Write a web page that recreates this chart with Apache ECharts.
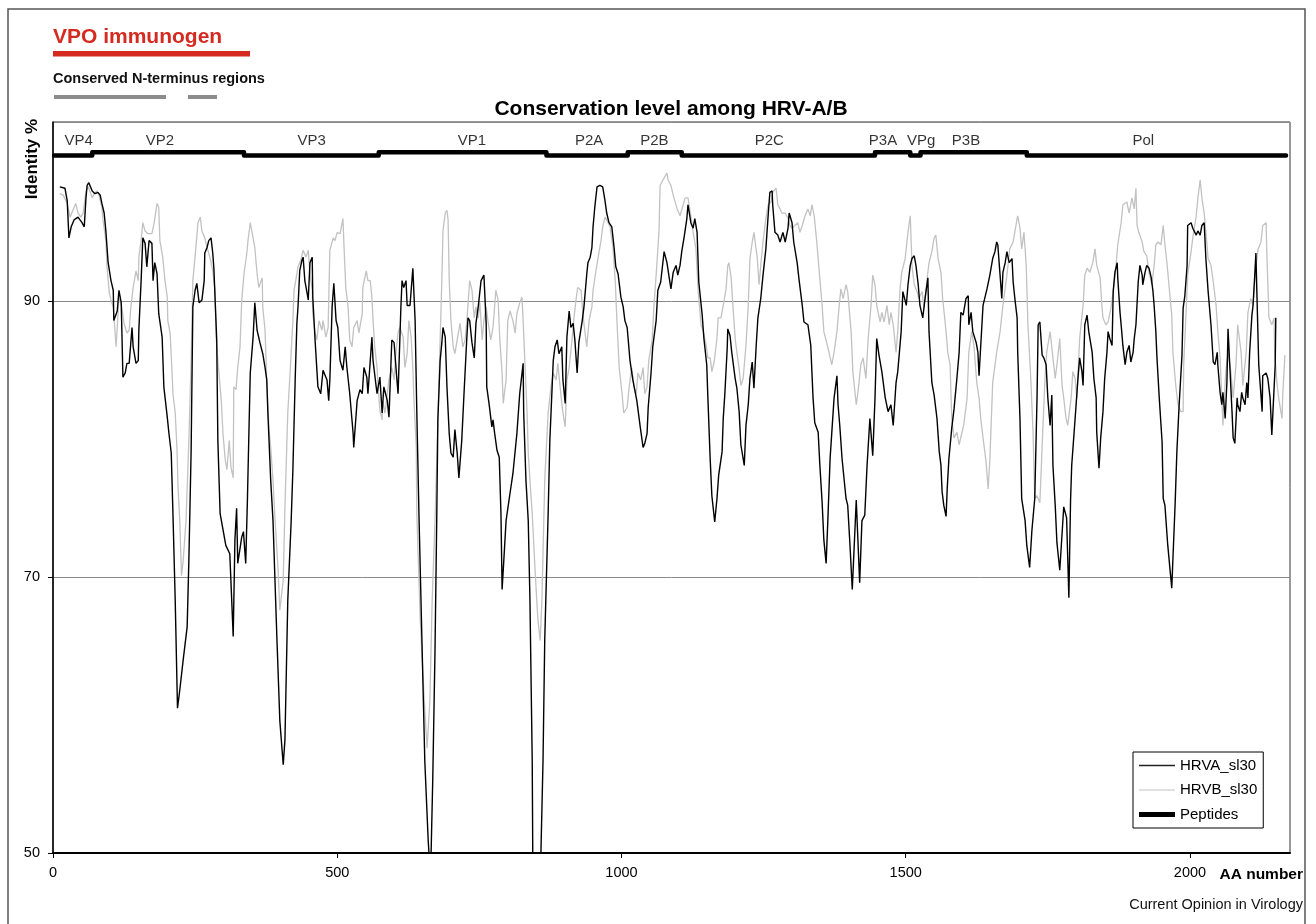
<!DOCTYPE html>
<html>
<head>
<meta charset="utf-8">
<script src="https://cdn.jsdelivr.net/npm/echarts@6/dist/echarts.min.js"></script>
<style>html,body{margin:0;padding:0;background:#fff}#c{width:1316px;height:924px}</style>
</head>
<body>
<div id="c"></div>
<script>
// ---- data (AA position, identity %) ----
const hrvaData = [
[12,98.3],[21,98.2],[25,97.3],[28,94.6],[32,95.4],[37,95.9],[44,96.1],[51,95.7],[55,95.4],[58,97.5],[60,98.4],[63,98.6],[69,98.0],[74,97.8],[79,97.9],[83,97.7],[86,97.1],[90,96.4],[93,95.1],[97,92.8],[102,91.5],[106,90.8],[107,88.6],[113,89.3],[116,90.8],[120,89.9],[123,84.5],[127,84.8],[130,85.5],[134,85.5],[139,88.1],[141,86.7],[146,85.5],[150,85.7],[151,87.9],[155,91.5],[158,94.6],[162,94.2],[165,92.5],[169,94.4],[174,94.2],[176,91.5],[179,92.8],[183,92.0],[186,89.1],[192,87.4],[195,83.8],[201,81.6],[204,80.4],[208,79.0],[211,74.6],[215,68.3],[219,60.5],[223,61.8],[229,64.0],[236,66.4],[239,71.2],[243,79.2],[246,89.6],[250,90.8],[253,91.3],[257,89.9],[262,90.1],[266,91.5],[267,93.5],[271,93.9],[274,94.4],[278,94.6],[281,93.5],[283,92.4],[288,87.2],[290,79.9],[294,74.6],[297,74.6],[304,72.3],[311,71.7],[317,65.7],[320,72.7],[323,75.0],[325,71.0],[332,72.9],[335,73.3],[339,71.0],[342,75.6],[343,77.5],[347,84.8],[352,87.4],[355,89.9],[359,87.9],[364,87.0],[369,86.2],[373,85.2],[376,84.3],[378,81.9],[383,77.0],[387,74.1],[394,65.4],[399,59.6],[405,56.4],[408,58.2],[413,68.3],[419,74.1],[422,77.8],[426,84.3],[429,88.4],[431,89.6],[434,92.2],[438,93.0],[440,93.2],[443,91.5],[447,90.6],[449,90.1],[452,92.8],[456,93.2],[457,90.3],[461,87.2],[466,83.8],[471,83.3],[475,85.0],[482,84.3],[485,82.8],
[487,84.3],[491,89.6],[494,91.3],[498,88.6],[501,88.1],[505,85.7],[510,85.0],[514,86.7],[517,85.2],[522,83.3],[528,80.4],[529,79.4],[535,82.8],[540,83.6],[544,83.3],[547,85.2],[552,84.5],[554,83.3],[561,87.4],[563,85.7],[570,83.3],[575,84.5],[579,81.9],[582,83.8],[588,82.8],[591,81.6],[596,87.2],[600,87.0],[605,84.3],[607,83.3],[612,89.6],[614,91.5],[617,91.0],[621,91.5],[623,89.7],[628,89.7],[633,92.4],[637,88.6],[640,81.9],[644,74.1],[649,65.4],[654,56.7],[660,50.9],[662,49.6],[665,49.8],[668,55.3],[672,64.7],[675,74.1],[677,81.4],[681,85.7],[684,87.0],[686,88.1],[690,87.4],[693,83.8],[697,80.4],[700,79.0],[704,78.7],[707,80.7],[711,79.0],[714,77.2],[719,79.9],[723,83.3],[728,87.4],[730,88.8],[733,88.6],[737,87.0],[741,85.9],[744,88.4],[748,89.6],[753,91.5],[758,91.9],[762,88.4],[763,83.8],[767,82.6],[772,80.9],[774,81.4],[777,80.4],[781,79.2],[785,78.7],[788,74.6],[790,69.1],[793,71.2],[797,74.1],[804,76.1],[809,77.5],[816,80.4],[821,83.3],[827,85.5],[828,81.9],[832,77.0],[836,74.1],[839,68.3],[843,56.7],[844,49.5],[851,44.0],[858,49.5],[862,56.7],[865,65.4],[871,74.6],[874,79.9],[880,85.7],[883,86.7],[887,87.2],[890,86.2],[895,86.7],[897,84.3],[901,82.6],[904,87.4],[908,89.3],[911,88.1],[915,88.4],[918,87.2],[922,84.8],[925,87.0],[931,88.6],[934,89.6],[939,92.0],[941,92.8],[945,93.2],[948,93.9],[950,95.4],[953,96.8],[957,98.3],[962,98.4],[967,98.3],[971,97.3],[974,96.4],[978,95.7],[983,95.4],[987,93.9],[990,92.5],[994,92.0],[999,90.3],[1003,89.6],[1006,88.6],[1010,88.1],[1015,85.7],[1020,84.3],[1027,82.8],[1033,80.9],[1038,79.4],[1041,79.7],[1045,80.4],[1047,82.3],[1052,84.8],[1055,86.7],[1061,88.6],[1064,90.8],
[1069,91.4],[1075,93.6],[1080,92.8],[1084,91.7],[1087,90.9],[1091,92.1],[1096,92.6],[1099,91.9],[1103,92.6],[1106,93.6],[1110,94.6],[1115,96.0],[1117,97.0],[1122,95.7],[1126,95.3],[1129,96.0],[1133,95.0],[1136,91.4],[1142,89.0],[1145,87.3],[1150,85.4],[1152,83.0],[1156,78.6],[1159,75.9],[1164,74.0],[1168,75.7],[1171,77.4],[1177,79.1],[1179,81.5],[1182,83.4],[1186,86.6],[1187,88.0],[1191,87.5],[1194,86.3],[1200,84.4],[1203,83.7],[1207,82.0],[1210,79.6],[1216,78.1],[1219,81.0],[1223,82.5],[1226,84.4],[1230,85.6],[1233,83.7],[1237,86.8],[1240,88.8],[1245,90.2],[1249,91.9],[1254,93.8],[1258,96.2],[1261,97.9],[1265,98.0],[1266,97.0],[1270,95.0],[1275,94.8],[1279,94.3],[1284,95.0],[1288,94.3],[1293,95.3],[1295,96.4],[1300,95.7],[1303,94.3],[1309,92.8],[1312,91.7],[1318,89.7],[1321,88.5],[1328,88.3],[1333,86.8],[1337,83.0],[1340,81.2],[1346,80.5],[1349,78.1],[1353,75.4],[1356,72.7],[1360,71.0],[1363,74.1],[1367,78.6],[1370,80.5],[1374,83.0],[1379,84.6],[1381,82.5],[1384,81.0],[1388,78.6],[1391,78.6],[1395,75.7],[1398,75.2],[1402,72.3],[1406,69.1],[1413,75.6],[1419,69.6],[1423,74.1],[1428,74.5],[1432,78.1],[1437,81.5],[1442,78.8],[1446,83.0],[1449,87.3],[1453,86.1],[1458,84.9],[1464,83.0],[1469,82.0],[1474,82.5],[1478,81.0],[1483,84.1],[1486,84.9],[1492,87.8],[1495,90.7],[1501,89.7],[1504,91.2],[1508,92.6],[1511,93.1],[1515,93.3],[1518,92.6],[1522,91.2],[1525,89.7],[1530,88.8],[1534,90.2],[1539,91.7],[1541,87.8],[1546,84.1],[1550,83.2],[1555,81.5],[1559,79.1],[1562,78.1],[1564,76.2],[1567,75.2],[1571,74.4],[1573,76.4],[1576,78.6],[1581,80.8],[1585,82.2],[1590,84.4],[1594,86.3],[1597,89.2],[1601,89.0],[1606,90.2],[1610,90.4],[1611,88.3],[1615,89.2],[1618,87.8],[1624,87.0],[1627,86.3],[1629,84.6],[1632,86.8],[1636,89.7],
[1643,90.9],[1648,91.9],[1653,93.1],[1657,93.6],[1660,94.3],[1662,94.1],[1666,91.9],[1669,90.2],[1671,92.1],[1675,92.8],[1678,93.6],[1682,92.8],[1687,93.1],[1689,91.4],[1692,90.2],[1696,88.8],[1697,86.3],[1701,81.5],[1704,75.7],[1710,74.1],[1713,72.3],[1718,70.7],[1722,73.4],[1727,75.7],[1731,83.0],[1733,88.3],[1736,88.5],[1740,86.1],[1743,85.9],[1747,85.4],[1750,83.0],[1754,81.0],[1757,83.2],[1759,78.1],[1763,75.2],[1766,72.5],[1771,70.5],[1778,75.1],[1783,74.3],[1787,68.5],[1790,75.6],[1792,78.1],[1798,81.5],[1803,84.4],[1806,85.9],[1810,84.9],[1812,83.9],[1815,88.3],[1819,89.0],[1822,87.8],[1828,86.3],[1831,84.4],[1835,83.0],[1836,80.5],[1840,77.9],[1843,80.1],[1847,82.0],[1850,84.4],[1854,86.3],[1856,87.8],[1859,87.3],[1863,86.8],[1865,90.7],[1868,92.1],[1872,92.8],[1873,91.7],[1877,89.2],[1880,87.8],[1882,86.8],[1886,85.4],[1889,86.3],[1893,86.8],[1896,85.6],[1900,86.3],[1902,87.3],[1905,88.3],[1909,91.4],[1912,92.6],[1916,91.9],[1917,91.2],[1921,92.1],[1924,92.6],[1928,92.4],[1932,91.7],[1935,90.7],[1937,89.7],[1940,87.8],[1942,85.9],[1946,83.0],[1951,79.8],[1953,75.7],[1956,75.2],[1961,72.3],[1968,69.2],[1974,75.4],[1977,79.1],[1981,82.5],[1986,86.1],[1988,89.5],[1991,90.4],[1995,92.6],[1996,95.5],[2002,95.7],[2005,95.3],[2011,94.8],[2014,95.1],[2018,94.8],[2021,95.5],[2025,95.7],[2028,93.1],[2032,90.7],[2037,88.3],[2041,85.6],[2044,85.4],[2048,86.3],[2049,85.4],[2053,83.4],[2056,82.5],[2058,83.4],[2062,81.5],[2065,84.1],[2067,88.0],[2070,85.4],[2074,82.0],[2076,80.1],[2079,79.7],[2083,83.0],[2084,82.5],[2088,82.0],[2091,83.4],[2093,83.0],[2097,82.5],[2100,84.1],[2102,83.0],[2105,86.3],[2109,89.0],[2111,89.7],[2114,91.9],[2116,93.5],[2118,90.2],[2121,85.4],[2127,82.0],[2128,84.6],[2134,84.8],[2137,84.4],[2141,83.0],[2144,80.3],[2146,82.0],[2150,85.4],[2151,88.8]
];

const hrvbData = [
[12,97.8],[18,97.7],[25,97.1],[30,96.1],[35,96.6],[40,97.1],[44,96.4],[49,96.1],[53,96.4],[58,98.0],[62,98.3],[69,97.5],[72,97.8],[77,98.0],[81,97.7],[86,96.8],[88,95.9],[93,94.4],[95,92.5],[99,90.6],[102,90.1],[106,89.6],[111,86.7],[113,88.1],[116,90.3],[121,89.6],[125,88.4],[130,87.7],[134,87.9],[137,89.6],[141,91.0],[146,92.2],[150,91.5],[151,93.2],[155,94.4],[158,95.7],[162,95.1],[167,94.9],[174,94.9],[178,95.7],[183,97.1],[186,96.8],[188,94.4],[193,93.2],[197,91.5],[201,90.3],[202,88.6],[206,87.7],[209,85.2],[211,83.3],[215,81.9],[218,79.4],[220,76.5],[223,74.1],[226,70.1],[229,71.2],[234,74.1],[239,79.9],[243,85.7],[246,91.5],[252,94.2],[255,95.7],[259,96.1],[262,95.1],[267,94.6],[271,93.9],[276,93.2],[281,92.2],[285,90.8],[287,87.4],[290,85.7],[296,82.8],[299,80.4],[303,78.5],[306,77.8],[310,79.9],[313,78.0],[317,77.2],[318,83.8],[322,83.6],[325,85.2],[329,86.7],[332,90.1],[336,92.0],[341,93.5],[343,94.4],[347,95.7],[352,94.6],[355,93.9],[359,92.0],[362,91.0],[368,91.7],[369,89.6],[373,87.9],[376,84.3],[380,80.7],[383,79.4],[387,77.0],[390,74.6],[396,70.5],[399,67.6],[405,69.8],[408,75.1],[413,81.9],[417,84.8],[422,88.6],[424,90.8],[427,91.5],[431,92.5],[436,93.0],[440,93.7],[445,93.2],[449,93.7],[452,92.0],[456,90.8],[457,89.1],[461,87.7],[464,87.2],[468,88.6],[473,87.9],[475,88.6],[480,87.4],[484,88.1],
[487,93.7],[493,94.6],[496,94.4],[500,95.0],[505,94.9],[510,96.0],[512,93.9],[515,91.0],[519,89.6],[522,87.2],[526,86.7],[529,88.1],[535,88.6],[538,87.7],[544,89.1],[545,91.0],[551,92.2],[554,91.5],[558,91.5],[561,90.3],[563,88.6],[566,86.7],[570,85.2],[572,83.8],[575,82.1],[579,81.4],[580,82.8],[584,81.9],[588,83.3],[591,84.3],[596,85.2],[600,84.3],[603,86.2],[607,87.7],[610,88.1],[616,87.4],[619,85.2],[623,86.2],[626,88.6],[630,87.4],[633,85.2],[635,82.8],[639,79.4],[640,74.6],[646,66.9],[653,61.1],[658,57.6],[663,61.1],[667,68.3],[672,74.1],[677,81.4],[681,87.2],[684,91.5],[686,95.1],[690,96.4],[693,96.6],[695,95.9],[697,91.5],[700,88.6],[704,86.7],[707,86.2],[711,87.2],[716,88.4],[721,86.7],[725,87.2],[728,88.6],[733,91.5],[737,90.8],[741,88.8],[744,89.6],[748,88.8],[751,89.9],[755,87.2],[758,88.6],[762,89.6],[765,88.6],[770,87.2],[774,88.1],[779,90.8],[783,90.1],[786,87.2],[790,84.8],[792,82.6],[797,84.3],[800,88.6],[804,89.3],[809,88.6],[813,87.7],[816,89.1],[821,89.9],[825,90.3],[827,88.6],[830,85.7],[834,81.9],[836,79.0],[839,77.0],[843,74.6],[848,70.5],[853,66.9],[857,65.4],[860,68.3],[865,77.0],[871,81.9],[876,83.8],[880,84.8],[885,84.3],[888,85.5],[894,83.0],[897,81.9],[901,80.9],[904,84.3],[908,85.2],[913,87.2],[916,88.6],[920,90.1],[923,91.0],[929,90.8],[932,89.1],[936,87.7],[939,86.7],[943,88.6],[948,89.6],[950,90.8],[955,92.2],[959,93.2],[964,94.4],[967,95.4],[971,96.1],[974,95.9],[980,95.4],[985,93.9],[989,91.5],[992,88.6],[996,85.2],[1001,83.3],[1004,81.9],[1010,82.3],[1013,83.6],[1018,85.2],[1022,83.8],[1026,83.3],[1029,84.8],[1034,84.3],[1038,85.2],[1041,83.3],[1045,83.8],[1048,85.7],[1054,87.2],[1057,89.6],[1062,92.5],[1066,95.1],
[1068,98.4],[1073,98.8],[1080,99.3],[1082,98.8],[1087,98.4],[1091,97.7],[1098,96.7],[1103,96.2],[1106,96.2],[1112,97.5],[1117,97.5],[1122,96.2],[1126,95.0],[1131,93.8],[1135,90.7],[1140,88.3],[1144,87.8],[1149,86.8],[1152,85.9],[1156,85.9],[1159,84.9],[1163,85.6],[1168,87.3],[1170,88.8],[1175,88.8],[1179,89.7],[1184,90.9],[1187,92.6],[1189,92.8],[1193,91.7],[1196,89.7],[1200,87.3],[1203,86.3],[1207,85.1],[1210,83.9],[1214,84.4],[1219,86.8],[1223,89.7],[1226,93.1],[1230,94.3],[1233,95.0],[1239,93.1],[1242,91.2],[1245,92.6],[1249,94.3],[1254,96.0],[1258,97.0],[1263,97.2],[1266,97.9],[1272,98.2],[1275,97.0],[1279,96.7],[1282,96.4],[1288,96.4],[1293,96.0],[1296,95.5],[1300,95.3],[1305,95.5],[1310,95.7],[1314,95.0],[1318,95.5],[1323,96.2],[1328,96.7],[1332,96.2],[1335,97.0],[1339,96.2],[1344,94.1],[1347,92.6],[1353,89.7],[1356,87.8],[1361,87.0],[1365,86.3],[1370,85.4],[1374,86.3],[1379,87.8],[1383,89.7],[1386,90.9],[1390,90.2],[1395,91.2],[1398,90.7],[1404,87.8],[1407,84.9],[1413,82.5],[1416,83.4],[1421,85.4],[1425,85.9],[1430,84.4],[1434,87.3],[1439,89.7],[1442,91.9],[1446,91.2],[1449,89.7],[1455,88.5],[1458,89.2],[1462,88.5],[1467,89.7],[1471,88.3],[1474,89.2],[1478,88.3],[1483,86.3],[1486,87.8],[1490,90.9],[1493,92.1],[1499,93.1],[1504,95.0],[1508,96.2],[1511,92.6],[1515,91.2],[1520,90.7],[1523,90.2],[1529,90.7],[1532,89.5],[1537,91.4],[1541,92.8],[1546,93.6],[1550,94.6],[1553,94.8],[1557,93.1],[1562,92.1],[1565,90.2],[1571,87.8],[1574,86.3],[1578,85.4],[1581,81.5],[1585,80.1],[1590,80.5],[1594,79.6],[1599,80.5],[1602,81.0],[1608,83.0],[1611,86.3],[1616,87.8],[1620,86.8],[1625,84.1],[1629,83.0],[1632,81.5],[1636,80.1],[1641,78.5],[1645,76.4],[1648,78.5],
[1653,84.1],[1660,86.3],[1666,87.8],[1671,89.7],[1678,91.9],[1683,93.8],[1689,94.3],[1696,96.0],[1697,96.2],[1701,95.3],[1704,93.8],[1708,95.0],[1712,92.6],[1715,88.3],[1720,84.4],[1724,80.5],[1727,75.7],[1731,75.9],[1736,75.4],[1741,80.5],[1745,84.4],[1748,86.3],[1754,87.8],[1759,85.9],[1763,84.4],[1766,85.4],[1771,87.3],[1775,83.9],[1778,83.0],[1782,81.5],[1785,81.0],[1791,83.0],[1794,84.9],[1798,84.4],[1801,83.0],[1806,87.3],[1812,89.7],[1815,91.9],[1819,92.4],[1824,92.1],[1829,92.8],[1833,93.8],[1836,92.6],[1842,91.7],[1845,89.7],[1847,88.8],[1852,88.3],[1856,88.5],[1861,89.5],[1865,90.7],[1870,92.6],[1873,94.1],[1879,95.7],[1882,97.0],[1889,97.2],[1893,96.4],[1898,97.5],[1902,96.7],[1905,98.2],[1907,95.5],[1910,95.0],[1916,94.3],[1919,93.6],[1924,93.3],[1928,92.1],[1933,91.2],[1937,92.6],[1940,94.1],[1944,94.3],[1949,94.1],[1953,95.5],[1956,94.1],[1960,92.6],[1963,91.2],[1968,89.0],[1970,86.3],[1975,83.9],[1979,82.5],[1984,82.0],[1988,82.0],[1989,85.4],[1993,89.0],[1996,91.9],[2002,93.6],[2005,94.6],[2011,96.2],[2014,97.5],[2018,98.8],[2021,97.5],[2025,96.4],[2028,95.0],[2032,93.1],[2037,92.6],[2041,91.4],[2046,89.7],[2049,87.8],[2053,85.9],[2056,83.0],[2058,81.0],[2063,84.9],[2067,86.3],[2072,84.9],[2076,83.0],[2081,85.4],[2084,88.3],[2090,86.3],[2093,83.9],[2099,86.3],[2102,89.2],[2107,90.2],[2111,89.7],[2116,92.6],[2120,93.8],[2125,94.3],[2128,95.5],[2134,95.7],[2135,93.8],[2139,88.8],[2144,88.3],[2148,88.8],[2149,86.3],[2153,84.1],[2156,83.0],[2162,81.5],[2163,83.0],[2167,86.1]
];

// peptide (protein region) segments
const regionNames   = ['VP4','VP2','VP3','VP1','P2A','P2B','P2C','P3A','VPg','P3B','Pol'];
const regionBounds  = [2, 69, 336, 573, 868, 1011, 1106, 1446, 1508, 1526, 1713, 2169];
const regionLevels  = [100.58, 100.8, 100.58, 100.8, 100.58, 100.8, 100.58, 100.8, 100.58, 100.8, 100.58];
const regionLabelX  = [45, 188, 455, 737, 943, 1058, 1260, 1460, 1527, 1606, 1918];
const regionLabelY  = 101.63;

const xTicks = [0, 500, 1000, 1500, 2000];
const yTicks = [50, 70, 90];

// ---- build ----
const peptidePts = [];
for (let i = 0; i < regionLevels.length; i++) {
  peptidePts.push([regionBounds[i], regionLevels[i]]);
  peptidePts.push([regionBounds[i + 1], regionLevels[i]]);
}
const labelPts = regionNames.map((n, i) => [regionLabelX[i], regionLabelY, n]);

const FF = '"Liberation Sans", Arial, Helvetica, sans-serif';
const chart = echarts.init(document.getElementById('c'), null, {renderer: 'canvas'});
chart.setOption({
  animation: false,
  backgroundColor: '#fff',
  textStyle: {fontFamily: FF, color: '#000'},
  grid: {left: 53, right: 26, top: 122, bottom: 71, show: true, borderColor: '#333', borderWidth: 1, containLabel: false},
  xAxis: {
    type: 'value', min: 0, max: 2176, interval: 500,
    axisLine: {show: true, onZero: false, lineStyle: {color: '#000', width: 2}},
    axisTick: {show: true, length: 5, lineStyle: {color: '#000', width: 1}},
    axisLabel: {fontSize: 14.5, color: '#000', margin: 12, fontFamily: FF,
      formatter: v => xTicks.includes(v) ? String(v) : '', showMaxLabel: false},
    splitLine: {show: false}
  },
  yAxis: {
    type: 'value', min: 50, max: 103, interval: 20,
    axisLine: {show: true, lineStyle: {color: '#000', width: 1.5}},
    axisTick: {show: true, length: 5, lineStyle: {color: '#000', width: 1}},
    axisLabel: {fontSize: 14.5, color: '#000', margin: 13, fontFamily: FF,
      formatter: v => yTicks.includes(v) ? String(v) : '', showMaxLabel: false},
    splitLine: {show: true, lineStyle: {color: '#8a8a8a', width: 1}}
  },
  legend: {
    data: [
      {name: 'HRVA_sl30', icon: 'path://M0,0L36,0L36,1.3L0,1.3Z'},
      {name: 'HRVB_sl30', icon: 'path://M0,0L36,0L36,1.2L0,1.2Z'},
      {name: 'Peptides',  icon: 'path://M0,0L36,0L36,5L0,5Z'}
    ],
    orient: 'vertical', left: 1133, top: 752,
    itemWidth: 36, itemHeight: 14, itemGap: 9.5,
    symbolKeepAspect: true,
    padding: [6, 6, 6, 6],
    borderColor: '#000', borderWidth: 1, backgroundColor: '#fff',
    selectedMode: false,
    textStyle: {fontSize: 15, color: '#000', fontFamily: FF}
  },
  series: [
    {name: 'HRVB_sl30', type: 'line', data: hrvbData, symbol: 'none', z: 2,
      lineStyle: {color: '#c2c2c2', width: 1.3}, itemStyle: {color: '#c2c2c2'}},
    {name: 'HRVA_sl30', type: 'line', data: hrvaData, symbol: 'none', z: 3,
      lineStyle: {color: '#000', width: 1.4}, itemStyle: {color: '#222'}},
    {name: 'Peptides', type: 'line', data: peptidePts, symbol: 'none', z: 4,
      lineStyle: {color: '#000', width: 4.5, cap: 'round', join: 'round'}, itemStyle: {color: '#000'}},
    {name: 'labels', type: 'scatter', data: labelPts, symbolSize: 1, z: 5,
      itemStyle: {color: 'rgba(0,0,0,0)'},
      label: {show: true, position: 'inside', formatter: p => p.data[2], fontSize: 15, color: '#000', fontFamily: FF}}
  ],
  graphic: [
    {type: 'rect', silent: true, shape: {x: 8, y: 9, width: 1297, height: 940}, style: {fill: 'none', stroke: '#555', lineWidth: 1.5}},
    {type: 'text', silent: true, x: 53, y: 37, style: {text: 'VPO immunogen', font: 'bold 21px ' + FF, fill: '#d42a1f', textVerticalAlign: 'middle'}},
    {type: 'rect', silent: true, shape: {x: 53, y: 51, width: 197, height: 5.5}, style: {fill: '#d42a1f'}},
    {type: 'text', silent: true, x: 53, y: 79, style: {text: 'Conserved N-terminus regions', font: 'bold 14.5px ' + FF, fill: '#111', textVerticalAlign: 'middle'}},
    {type: 'rect', silent: true, shape: {x: 54, y: 95, width: 112, height: 4}, style: {fill: '#8c8c8c'}},
    {type: 'rect', silent: true, shape: {x: 188, y: 95, width: 29, height: 4}, style: {fill: '#8c8c8c'}},
    {type: 'text', silent: true, x: 671, y: 109.5, style: {text: 'Conservation level among HRV-A/B', font: 'bold 21px ' + FF, fill: '#000', textAlign: 'center', textVerticalAlign: 'middle'}},
    {type: 'text', silent: true, x: 32, y: 159, rotation: Math.PI / 2, style: {text: 'Identity %', font: 'bold 17px ' + FF, fill: '#000', textAlign: 'center', textVerticalAlign: 'middle'}},
    {type: 'text', silent: true, x: 1303, y: 875, style: {text: 'AA number', font: 'bold 15.5px ' + FF, fill: '#000', textAlign: 'right', textVerticalAlign: 'middle'}},
    {type: 'text', silent: true, x: 1303, y: 905, style: {text: 'Current Opinion in Virology', font: '14.5px ' + FF, fill: '#111', textAlign: 'right', textVerticalAlign: 'middle'}}
  ]
});
</script>
</body>
</html>
